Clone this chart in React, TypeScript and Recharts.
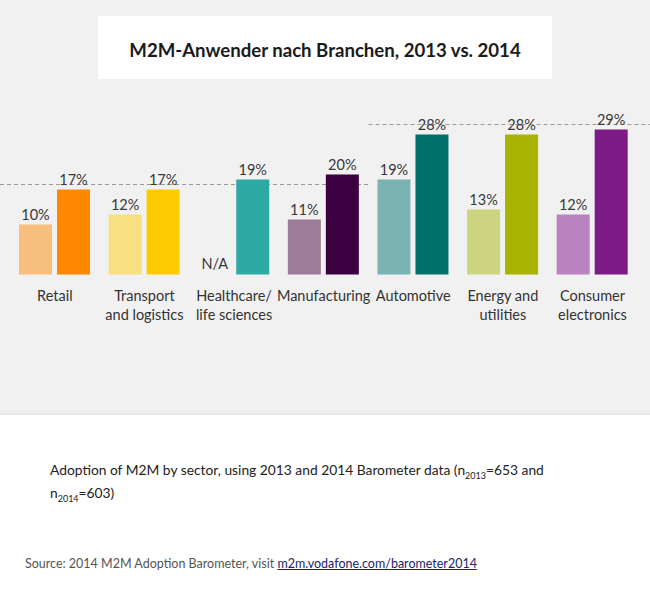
import React from "react";
import { BarChart, Bar, XAxis, YAxis, Cell, LabelList, ReferenceLine } from "recharts";

const categories = [
  "Retail",
  "Transport\nand logistics",
  "Healthcare/\nlife sciences",
  "Manufacturing",
  "Automotive",
  "Energy and\nutilities",
  "Consumer\nelectronics",
];
const values2013 = [10, 12, null, 11, 19, 13, 12];
const values2014 = [17, 17, 19, 20, 28, 28, 29];
const colors2013 = ["#f8be7d", "#f8df82", "#2ea9a4", "#9c7c98", "#7ab3b1", "#cdd47f", "#b883bf"];
const colors2014 = ["#ff8800", "#fecb00", "#2ea9a4", "#3a0040", "#00706b", "#a8b400", "#7c1a86"];
// dashed benchmark levels: left block and right block
const benchmarkValues = [18, 30];

const fmt = (v: number | null) => (v == null ? "N/A" : `${v}%`);

// missing 2013 value -> empty bar, labelled N/A
const data = categories.map((name, i) => ({
  name,
  y2013: values2013[i] ?? 0,
  y2014: values2014[i],
  label2013: fmt(values2013[i]),
  label2014: fmt(values2014[i]),
}));

const FONT = "Lato, 'Open Sans', sans-serif";
const CHART_W = 650;

function CategoryTick({ x, y, payload }: any) {
  const lines = String(payload.value).split("\n");
  return (
    <text x={x} y={y} textAnchor="middle" fill="#333" fontSize={14.5} fontFamily={FONT}>
      {lines.map((l, i) => (
        <tspan key={i} x={x} dy={i === 0 ? 26.5 : 19}>
          {l}
        </tspan>
      ))}
    </text>
  );
}

const dashShape = (side: "left" | "right") => (p: any) => (
  <line
    x1={side === "left" ? 0 : p.x1}
    x2={side === "right" ? CHART_W : p.x2}
    y1={p.y1}
    y2={p.y2}
    stroke="#9a9a9a"
    strokeWidth={1.2}
    strokeDasharray="4 3"
  />
);

const labelStyle = { fill: "#383838", fontSize: 14.5, fontFamily: FONT };

export default function App() {
  return (
    <div style={{ position: "absolute", left: 0, top: 0, width: 650, height: 600, background: "#fff", fontFamily: FONT }}>
      <div style={{ position: "absolute", left: 0, top: 0, width: 650, height: 413, background: "#f1f1f1", borderBottom: "2px solid #e9e9e9" }} />
      <div
        style={{
          position: "absolute",
          left: 98,
          top: 16,
          width: 454,
          height: 63,
          paddingTop: 4,
          boxSizing: "border-box",
          background: "#fff",
          display: "flex",
          alignItems: "center",
          justifyContent: "center",
          fontWeight: 700,
          fontSize: 18.6,
          color: "#1a1a1a",
        }}
      >
        M2M-Anwender nach Branchen, 2013 vs. 2014
      </div>
      <div style={{ position: "absolute", left: 0, top: 0 }}>
        <BarChart
          width={CHART_W}
          height={345}
          data={data}
          margin={{ top: 124.5, right: 12.7, bottom: 0, left: 10 }}
          barSize={33}
          barGap={5}
        >
          <XAxis
            dataKey="name"
            axisLine={false}
            tickLine={false}
            tickSize={0}
            tickMargin={0}
            height={70.5}
            interval={0}
            tick={<CategoryTick />}
          />
          <YAxis hide domain={[0, 30]} />
          <ReferenceLine
            segment={[
              { x: categories[0], y: benchmarkValues[0] },
              { x: categories[4], y: benchmarkValues[0] },
            ]}
            position="start"
            ifOverflow="visible"
            zIndex={-50}
            shape={dashShape("left")}
          />
          <ReferenceLine
            segment={[
              { x: categories[4], y: benchmarkValues[1] },
              { x: categories[6], y: benchmarkValues[1] },
            ]}
            position="start"
            ifOverflow="visible"
            zIndex={-50}
            shape={dashShape("right")}
          />
          <Bar
            dataKey="y2013"
            isAnimationActive={false}
            minPointSize={(v: number, i: number) => (values2013[i] == null ? 0.01 : 0)}
          >
            {data.map((d, i) => (
              <Cell key={i} fill={values2013[i] == null ? "transparent" : colors2013[i]} />
            ))}
            <LabelList dataKey="label2013" position="top" offset={5} {...labelStyle} />
          </Bar>
          <Bar dataKey="y2014" isAnimationActive={false}>
            {data.map((d, i) => (
              <Cell key={i} fill={colors2014[i]} />
            ))}
            <LabelList dataKey="label2014" position="top" offset={5} {...labelStyle} />
          </Bar>
        </BarChart>
      </div>
      <div style={{ position: "absolute", left: 50, top: 459, fontSize: 13.8, lineHeight: "21px", color: "#222" }}>
        Adoption of M2M by sector, using 2013 and 2014 Barometer data (n
        <span style={{ fontSize: 9, position: "relative", top: 4 }}>2013</span>=653 and
        <br />n<span style={{ fontSize: 9, position: "relative", top: 4 }}>2014</span>=603)
      </div>
      <div style={{ position: "absolute", left: 25, top: 556, fontSize: 12.5, color: "#555" }}>
        Source: 2014 M2M Adoption Barometer, visit{" "}
        <span style={{ color: "#23236b", textDecoration: "underline" }}>m2m.vodafone.com/barometer2014</span>
      </div>
    </div>
  );
}
